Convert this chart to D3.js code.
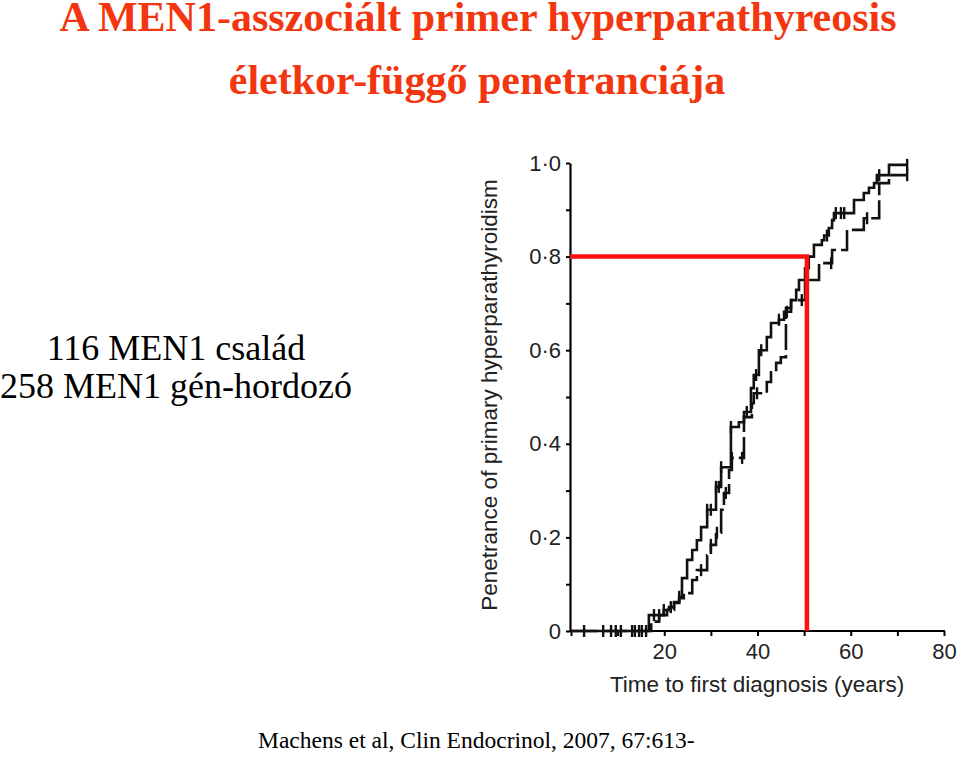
<!DOCTYPE html>
<html>
<head>
<meta charset="utf-8">
<script src="https://cdn.jsdelivr.net/npm/d3@7"></script>
<style>
  html, body { margin: 0; padding: 0; background: #fff; }
  svg { display: block; }
</style>
</head>
<body>
<svg id="chart" width="959" height="761"></svg>
<script>
// ---------- data ----------
const titleLines = ["A MEN1-asszociált primer hyperparathyreosis", "életkor-függő penetranciája"];
const sideLines = ["116 MEN1 család", "258 MEN1 gén-hordozó"];
const citation = "Machens et al, Clin Endocrinol, 2007, 67:613-";
const xTitle = "Time to first diagnosis (years)";
const yTitle = "Penetrance of primary hyperparathyroidism";

const xTickValues = [0, 10, 20, 30, 40, 50, 60, 70, 80];
const xTickLabels = ["", "", "20", "", "40", "", "60", "", "80"];
const yTickValues = [0, 0.1, 0.2, 0.3, 0.4, 0.5, 0.6, 0.7, 0.8, 0.9, 1.0];
const yTickLabels = ["0", "", "0·2", "", "0·4", "", "0·6", "", "0·8", "", "1·0"];

// Kaplan-Meier steps, curve A (solid)
const yearsA  = [0, 16.7, 19.9, 21.0, 22.1, 23.2, 23.8, 24.9, 26.0, 27.0, 27.9, 29.2, 31.1, 32.2, 34.3, 36.0, 37.1, 38.6, 39.2, 40.3, 42.0, 42.9, 44.6, 45.7, 47.2, 48.3, 48.9, 50.2, 51.0, 52.1, 53.8, 54.3, 55.3, 56.0, 56.4, 60.7, 62.8, 63.9, 65.0, 65.6, 68.2, 72.1];
const valuesA = [0, 0.034, 0.045, 0.051, 0.062, 0.073, 0.113, 0.152, 0.173, 0.194, 0.222, 0.259, 0.308, 0.35, 0.436, 0.446, 0.468, 0.519, 0.547, 0.60, 0.628, 0.658, 0.665, 0.682, 0.707, 0.729, 0.75, 0.775, 0.80, 0.825, 0.835, 0.845, 0.861, 0.878, 0.893, 0.921, 0.936, 0.947, 0.957, 0.974, 0.996, 0.996];
// curve B (dashed)
const yearsB  = [0, 17.2, 18.9, 20.6, 22.1, 23.2, 24.2, 26.0, 27.0, 29.2, 30.0, 31.1, 32.2, 32.8, 33.9, 34.5, 37.1, 38.8, 39.2, 42.0, 42.9, 44.0, 45.0, 46.1, 47.2, 50.2, 53.2, 56.0, 59.2, 62.8, 66.1, 68.2, 72.1];
const valuesB = [0, 0.02, 0.034, 0.045, 0.06, 0.07, 0.081, 0.109, 0.13, 0.162, 0.184, 0.21, 0.259, 0.295, 0.344, 0.37, 0.457, 0.487, 0.508, 0.532, 0.553, 0.573, 0.585, 0.69, 0.707, 0.75, 0.786, 0.814, 0.857, 0.882, 0.957, 0.974, 0.974];

// censored observations (ages)
const censorBase = [2.8, 6.9, 8.6, 9.6, 10.7, 13.1, 13.7, 14.6, 15.2, 16.1];
const censorA = [17.8, 18.9, 19.9, 21.4, 23.2, 29.2, 30.0, 31.1, 31.7, 32.2, 34.3, 37.7, 39.7, 40.8, 44.6, 46.3, 54.9, 56.8, 57.9, 58.6, 66.1, 72.1];
const censorB = [27.9, 30.0, 31.3, 33.2, 34.5, 36.7, 39.9, 49.5, 55.8, 63.5, 72.1];

// reference lines: 80% penetrance reached at this age
const refAge = 50.6;
const refValue = 0.8;

// ---------- drawing ----------
const svg = d3.select("#chart");
const x = d3.scaleLinear().domain([0, 80]).range([571, 944]);
const y = d3.scaleLinear().domain([0, 1]).range([631, 163]);
const sans = "'Liberation Sans', Arial, Helvetica, sans-serif";
const serif = "'Liberation Serif', 'Times New Roman', serif";
const red = "#f2360f";

// titles
svg.append("text").attr("x", 478).attr("y", 31)
  .attr("text-anchor", "middle").attr("font-family", serif).attr("font-weight", "bold")
  .attr("font-size", 42).attr("fill", red).text(titleLines[0]);
svg.append("text").attr("x", 477).attr("y", 94)
  .attr("text-anchor", "middle").attr("font-family", serif).attr("font-weight", "bold")
  .attr("font-size", 42).attr("fill", red).text(titleLines[1]);

// side text
sideLines.forEach((t, i) => {
  svg.append("text").attr("x", 176).attr("y", 360 + i * 38)
    .attr("text-anchor", "middle").attr("font-family", serif)
    .attr("font-size", 36).attr("fill", "#000").text(t);
});

// citation
svg.append("text").attr("x", 258).attr("y", 748)
  .attr("font-family", serif).attr("font-size", 23.5).attr("fill", "#000").text(citation);

// axes
const xAxis = d3.axisBottom(x).tickValues(xTickValues)
  .tickFormat((d, i) => xTickLabels[i]).tickSize(5).tickSizeOuter(0).tickPadding(7);
const gx = svg.append("g").attr("transform", `translate(0,${y(0)})`).call(xAxis);
gx.select(".domain").attr("stroke", "#000").attr("stroke-width", 2.2)
  .attr("d", `M${x(0) - 1},0H${x(80) + 1}`);
gx.selectAll(".tick line").attr("stroke", "#000").attr("stroke-width", 2);
gx.selectAll(".tick text").attr("font-family", sans).attr("font-size", 22).attr("fill", "#222");

const yAxis = d3.axisLeft(y).tickValues(yTickValues)
  .tickFormat((d, i) => yTickLabels[i]).tickSize(4).tickSizeOuter(0).tickPadding(5);
const gy = svg.append("g").attr("transform", `translate(${x(0) - 1},0)`).call(yAxis);
gy.select(".domain").attr("stroke", "#000").attr("stroke-width", 2.2);
gy.selectAll(".tick line").attr("stroke", "#000").attr("stroke-width", 2);
gy.selectAll(".tick text").attr("font-family", sans).attr("font-size", 22).attr("fill", "#222");

// axis titles
svg.append("text").attr("x", 757).attr("y", 692).attr("text-anchor", "middle")
  .attr("font-family", sans).attr("font-size", 22.5).attr("fill", "#222").text(xTitle);
svg.append("text").attr("transform", "translate(497,395) rotate(-90)").attr("text-anchor", "middle")
  .attr("font-family", sans).attr("font-size", 22.5).attr("fill", "#222").text(yTitle);

// curves
const line = d3.line().x(d => x(d[0])).y(d => y(d[1])).curve(d3.curveStepAfter);
const ptsA = yearsA.map((a, i) => [a, valuesA[i]]);
const ptsB = yearsB.map((a, i) => [a, valuesB[i]]);
svg.append("path").datum(ptsB).attr("d", line).attr("fill", "none")
  .attr("stroke", "#111").attr("stroke-width", 2.6).attr("stroke-dasharray", "26,5");
svg.append("path").datum(ptsA).attr("d", line).attr("fill", "none")
  .attr("stroke", "#111").attr("stroke-width", 2.6);

function stepValue(years, values, age) {
  let v = 0;
  for (let i = 0; i < years.length; i++) if (years[i] <= age) v = values[i];
  return v;
}
function drawCensors(ages, years, values) {
  svg.append("g").selectAll("line").data(ages).join("line")
    .attr("x1", d => x(d)).attr("x2", d => x(d))
    .attr("y1", d => y(stepValue(years, values, d)) - 6)
    .attr("y2", d => y(stepValue(years, values, d)) + 6)
    .attr("stroke", "#111").attr("stroke-width", 2.4);
}
drawCensors(censorBase, yearsA, valuesA);
drawCensors(censorA, yearsA, valuesA);
drawCensors(censorB, yearsB, valuesB);

// red reference lines
svg.append("path")
  .attr("d", `M${x(0) - 1},${y(refValue)}H${x(refAge)}V${y(0)}`)
  .attr("fill", "none").attr("stroke", "#ff1010").attr("stroke-width", 4.5);
</script>
</body>
</html>
